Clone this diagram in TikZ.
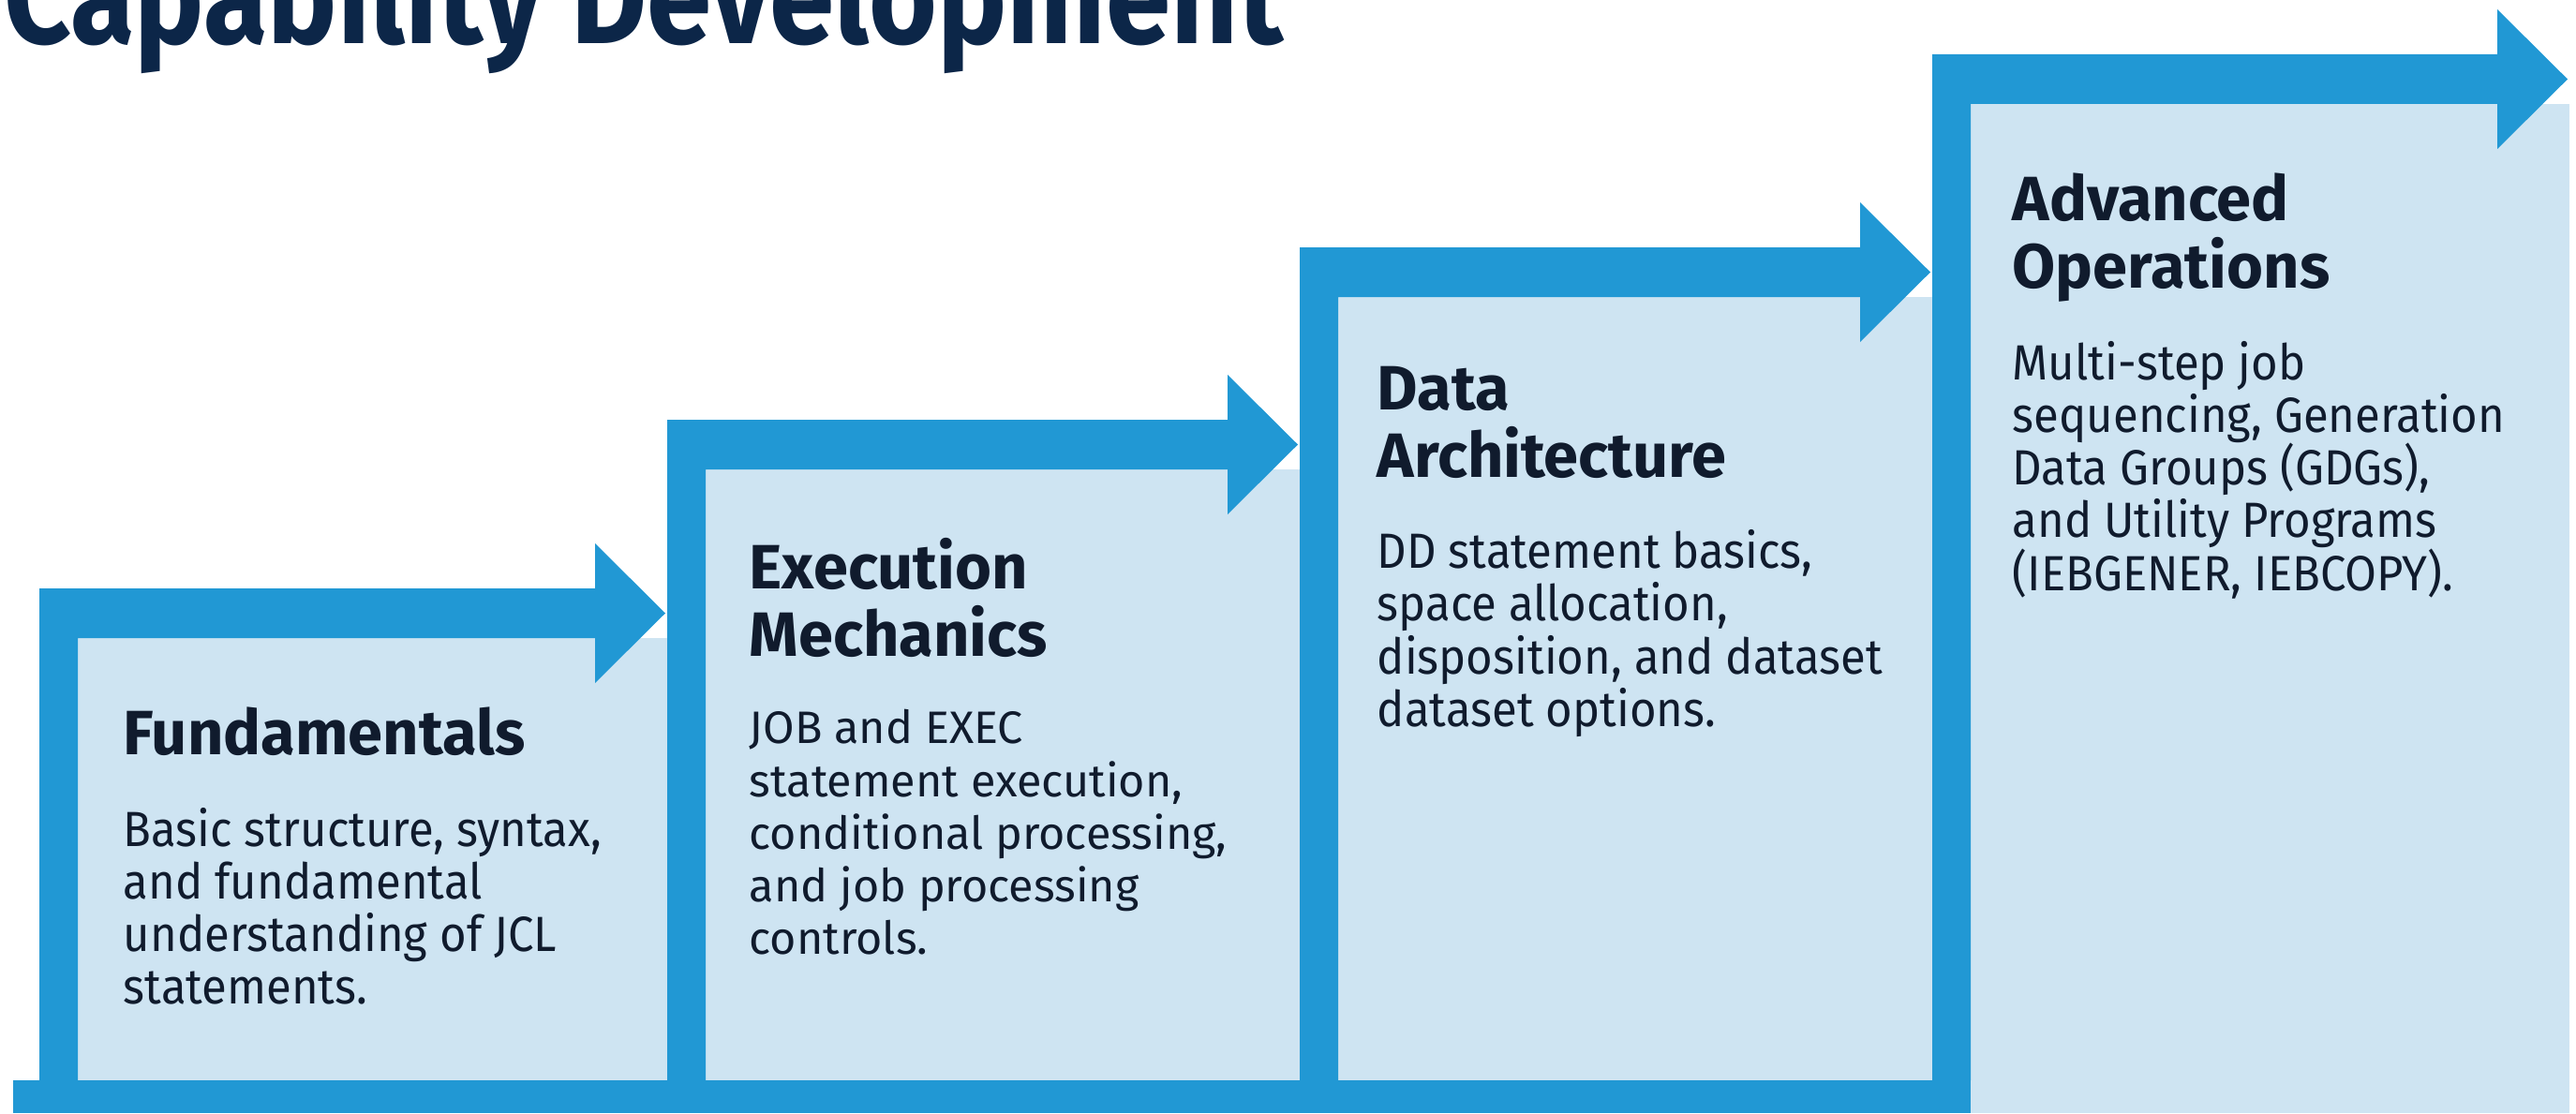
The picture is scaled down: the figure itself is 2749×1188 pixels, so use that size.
\documentclass[tikz,border=0pt]{standalone}
\usepackage{fontspec}
\usepackage[x11names]{xcolor}
\usepackage{tikz}
\usetikzlibrary{positioning}

\setmainfont{Fira Sans}
\newfontfamily\narrowfont{Fira Sans}[FakeStretch=0.93]
\newfontfamily\titlefont{Fira Sans}[FakeStretch=0.86]

\definecolor{stepblue}{RGB}{33,152,212}
\definecolor{steplight}{RGB}{206,228,242}
\definecolor{inkdark}{RGB}{16,27,45}
\definecolor{titlenavy}{RGB}{12,38,72}

\tikzset{
  headtext/.style={anchor=north west, inner sep=0pt, align=left, text=inkdark,
    font=\fontsize{19}{20.5}\selectfont\bfseries, execute at end node={\strut}},
  bodytext/.style={anchor=north west, inner sep=0pt, align=left, text=inkdark,
    font=\narrowfont\fontsize{15}{16}\selectfont},
  widebody/.style={bodytext, font=\fontsize{13.8}{16}\selectfont}
}

\begin{document}
\begin{tikzpicture}[x=0.01cm, y=-0.01cm]
      \useasboundingbox (0,0) rectangle (2749,1188);
      \clip (0,0) rectangle (2749,1188);
      %Step frames with arrow heads
      \foreach \l/\t/\n/\b in {42/628/712/1153, 712/448/1387/1153, 1387/264/2062/1153, 2062/58/2742/1188}{
	\fill[steplight] (\l+41,\t+53) rectangle (\n,\b);
	\fill[stepblue] (\l,1153) |- (\n-77,\t) -- (\n-77,\t-48) -- (\n-2,\t+26.5)
	  -- (\n-77,\t+101) -- (\n-77,\t+53) -| (\l+41,1153) -- cycle;
      }
      %Base bar
      \fill[stepblue] (14,1153) rectangle (2103,1188);
      %Title
      \node[anchor=base west, inner sep=0pt, text=titlenavy,
	font=\titlefont\bfseries\fontsize{41.3}{41.3}\selectfont] (title) at (4,47) {Capability Development};
      %Step texts
      \node[headtext] (fund-head) at (131,754) {Fundamentals};
      \node[below=9.5pt of fund-head.south west, bodytext] (fund-body)
	{Basic structure, syntax,\\and fundamental\\understanding of JCL\\statements.};
      \node[headtext] (exec-head) at (799,574) {Execution\\Mechanics};
      \node[below=9.5pt of exec-head.south west, widebody] (exec-body)
	{JOB and EXEC\\statement execution,\\conditional processing,\\and job processing\\controls.};
      \node[headtext] (data-head) at (1469,390) {Data\\Architecture};
      \node[below=9.5pt of data-head.south west, bodytext] (data-body)
	{DD statement basics,\\space allocation,\\disposition, and dataset\\dataset options.};
      \node[headtext] (adv-head) at (2147,184) {Advanced\\Operations};
      \node[below=9.5pt of adv-head.south west, bodytext] (adv-body)
	{Multi-step job\\sequencing, Generation\\Data Groups (GDGs),\\and Utility Programs\\(IEBGENER, IEBCOPY).};
\end{tikzpicture}
\end{document}
